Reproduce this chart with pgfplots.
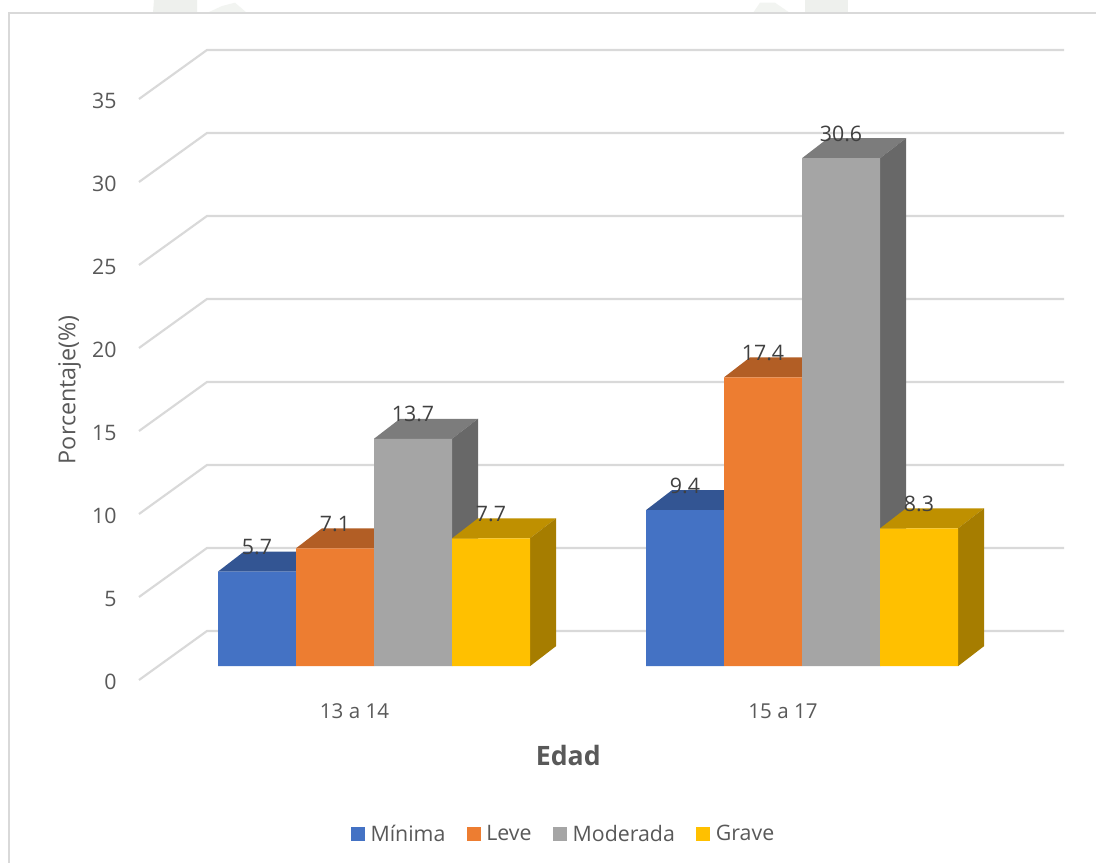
\documentclass[border=0pt]{standalone}
\usepackage{pgfplots}
\pgfplotsset{compat=1.18}
\usepackage{fontspec}
\setmainfont{Open Sans}
\definecolor{txt}{HTML}{595959}
\definecolor{lab}{HTML}{404040}
\definecolor{gridc}{HTML}{D9D9D9}
\definecolor{wm}{HTML}{EEF0ED}
\definecolor{wmb}{HTML}{F2F4F1}
\definecolor{cA}{HTML}{4472C4}\definecolor{cAt}{HTML}{335593}\definecolor{cAs}{HTML}{2A4679}
\definecolor{cB}{HTML}{ED7D31}\definecolor{cBt}{HTML}{B25E25}\definecolor{cBs}{HTML}{94501F}
\definecolor{cC}{HTML}{A5A5A5}\definecolor{cCt}{HTML}{7C7C7C}\definecolor{cCs}{HTML}{686868}
\definecolor{cD}{HTML}{FFC000}\definecolor{cDt}{HTML}{BF9000}\definecolor{cDs}{HTML}{A67D00}
\pgfplotsset{
  base/.style={
    scale only axis, width=822pt, height=647.25pt,
    xmin=0, xmax=1096, clip=true,
    axis line style={draw=none}, tick style={draw=none},
  },
  face/.style={fill=#1, draw=none, forget plot, mark=none},
  grid3d/.style={color=gridc, line width=1.6pt, mark=none, forget plot},
}
\begin{document}
\begin{tikzpicture}
% walls, value axis: y=0 on the front edge of the floor
\begin{axis}[base,
  name=walls,
  ymin=-11.024, ymax=40.964,
  axis background/.style={fill=white},
  xtick=\empty,
  ytick={0,5,10,15,20,25,30,35},
  /pgf/number format/assume math mode=true,
  y tick label style={font=\fontsize{16pt}{19pt}\selectfont, text=txt, anchor=east, xshift=91pt, yshift=-1.5pt},
  every axis y label/.style={at={(rel axis cs:0.0635,0.5485)}, rotate=90, anchor=center},
  ylabel={\fontsize{17.5pt}{21pt}\selectfont\color{txt}Porcentaje(\%)},
]
% faint remains of a watermark above the frame
\addplot[face=wm] coordinates {(153,40.18)(154,40.964)(197,40.964)(197,40.18)};
\addplot[face=wmb] coordinates {(207,40.18)(222,40.6)(235,40.8)(247,40.18)};
\addplot[face=wmb] coordinates {(753,40.18)(760,40.8)(775,40.8)(790,40.18)};
\addplot[face=wm] coordinates {(805,40.18)(805,40.964)(848,40.964)(848,40.18)};
% frame
\addplot[color=gridc, line width=1.2pt, mark=none, forget plot] coordinates {(9,-11.024)(9,40.18)(1096,40.18)};
% walls
\addplot[grid3d] coordinates {(139,0)(207,2.952)(1064,2.952)};
\addplot[grid3d] coordinates {(139,5)(207,7.952)(1064,7.952)};
\addplot[grid3d] coordinates {(139,10)(207,12.952)(1064,12.952)};
\addplot[grid3d] coordinates {(139,15)(207,17.952)(1064,17.952)};
\addplot[grid3d] coordinates {(139,20)(207,22.952)(1064,22.952)};
\addplot[grid3d] coordinates {(139,25)(207,27.952)(1064,27.952)};
\addplot[grid3d] coordinates {(139,30)(207,32.952)(1064,32.952)};
\addplot[grid3d] coordinates {(139,35)(207,37.952)(1064,37.952)};
\end{axis}
% bars: y=0 on the front foot of the bars
\begin{axis}[base,
  at={(walls.south west)}, anchor=south west,
  ymin=-11.856, ymax=40.132,
  ytick=\empty,
  xtick={354.5,783},
  xticklabels={13 a 14,15 a 17},
  x tick label style={font=\fontsize{15.4pt}{18pt}\selectfont, text=txt, anchor=center, yshift=113.5pt},
  every axis x label/.style={at={(rel axis cs:0.5185,0.125)}, anchor=center},
  xlabel={\fontsize{20pt}{24pt}\selectfont\bfseries\color{txt}Edad},
  nodes near coords,
  nodes near coords style={font=\fontsize{16pt}{19pt}\selectfont, text=lab, anchor=center, yshift=18.5pt,
    /pgf/number format/.cd, fixed, fixed zerofill, precision=1, assume math mode=true},
  legend columns=4,
  legend cell align=left,
  legend style={at={(rel axis cs:0.5145,0.0335)}, anchor=center, draw=none, fill=none,
    font=\fontsize{16pt}{19pt}\selectfont, text=txt,
    /tikz/every odd column/.style={column sep=2.25pt},
    /tikz/every even column/.style={column sep=14pt}},
  legend image code/.code={\fill[#1] (0pt,-5.25pt) rectangle (10.5pt,5.25pt);},
]
% Minima
\addplot[face=cAt,nodes near coords=] coordinates {(218,5.7)(244,6.905)(322,6.905)(296,5.7)};
\addplot[face=cAt,nodes near coords=] coordinates {(646,9.4)(672,10.605)(750,10.605)(724,9.4)};
\addplot[ybar, bar width=58.5pt, bar shift=0pt, fill=cA, draw=none] coordinates {(257,5.7)(685,9.4)};
\addlegendentry{Mínima}
% Leve
\addplot[face=cBt,nodes near coords=] coordinates {(296,7.1)(322,8.305)(400,8.305)(374,7.1)};
\addplot[face=cBt,nodes near coords=] coordinates {(724,17.4)(750,18.605)(828,18.605)(802,17.4)};
\addplot[ybar, bar width=58.5pt, bar shift=0pt, fill=cB, draw=none] coordinates {(335,7.1)(763,17.4)};
\addlegendentry{Leve}
% Moderada
\addplot[face=cCt,nodes near coords=] coordinates {(374,13.7)(400,14.905)(478,14.905)(452,13.7)};
\addplot[face=cCs,nodes near coords=] coordinates {(452,0)(478,1.205)(478,14.905)(452,13.7)};
\addplot[face=cCt,nodes near coords=] coordinates {(802,30.6)(828,31.805)(906,31.805)(880,30.6)};
\addplot[face=cCs,nodes near coords=] coordinates {(880,0)(906,1.205)(906,31.805)(880,30.6)};
\addplot[ybar, bar width=58.5pt, bar shift=0pt, fill=cC, draw=none] coordinates {(413,13.7)(841,30.6)};
\addlegendentry{Moderada}
% Grave
\addplot[face=cDt,nodes near coords=] coordinates {(452,7.7)(478,8.905)(556,8.905)(530,7.7)};
\addplot[face=cDs,nodes near coords=] coordinates {(530,0)(556,1.205)(556,8.905)(530,7.7)};
\addplot[face=cDt,nodes near coords=] coordinates {(880,8.3)(906,9.505)(984,9.505)(958,8.3)};
\addplot[face=cDs,nodes near coords=] coordinates {(958,0)(984,1.205)(984,9.505)(958,8.3)};
\addplot[ybar, bar width=58.5pt, bar shift=0pt, fill=cD, draw=none] coordinates {(491,7.7)(919,8.3)};
\addlegendentry{Grave}
\end{axis}
\end{tikzpicture}
\end{document}
